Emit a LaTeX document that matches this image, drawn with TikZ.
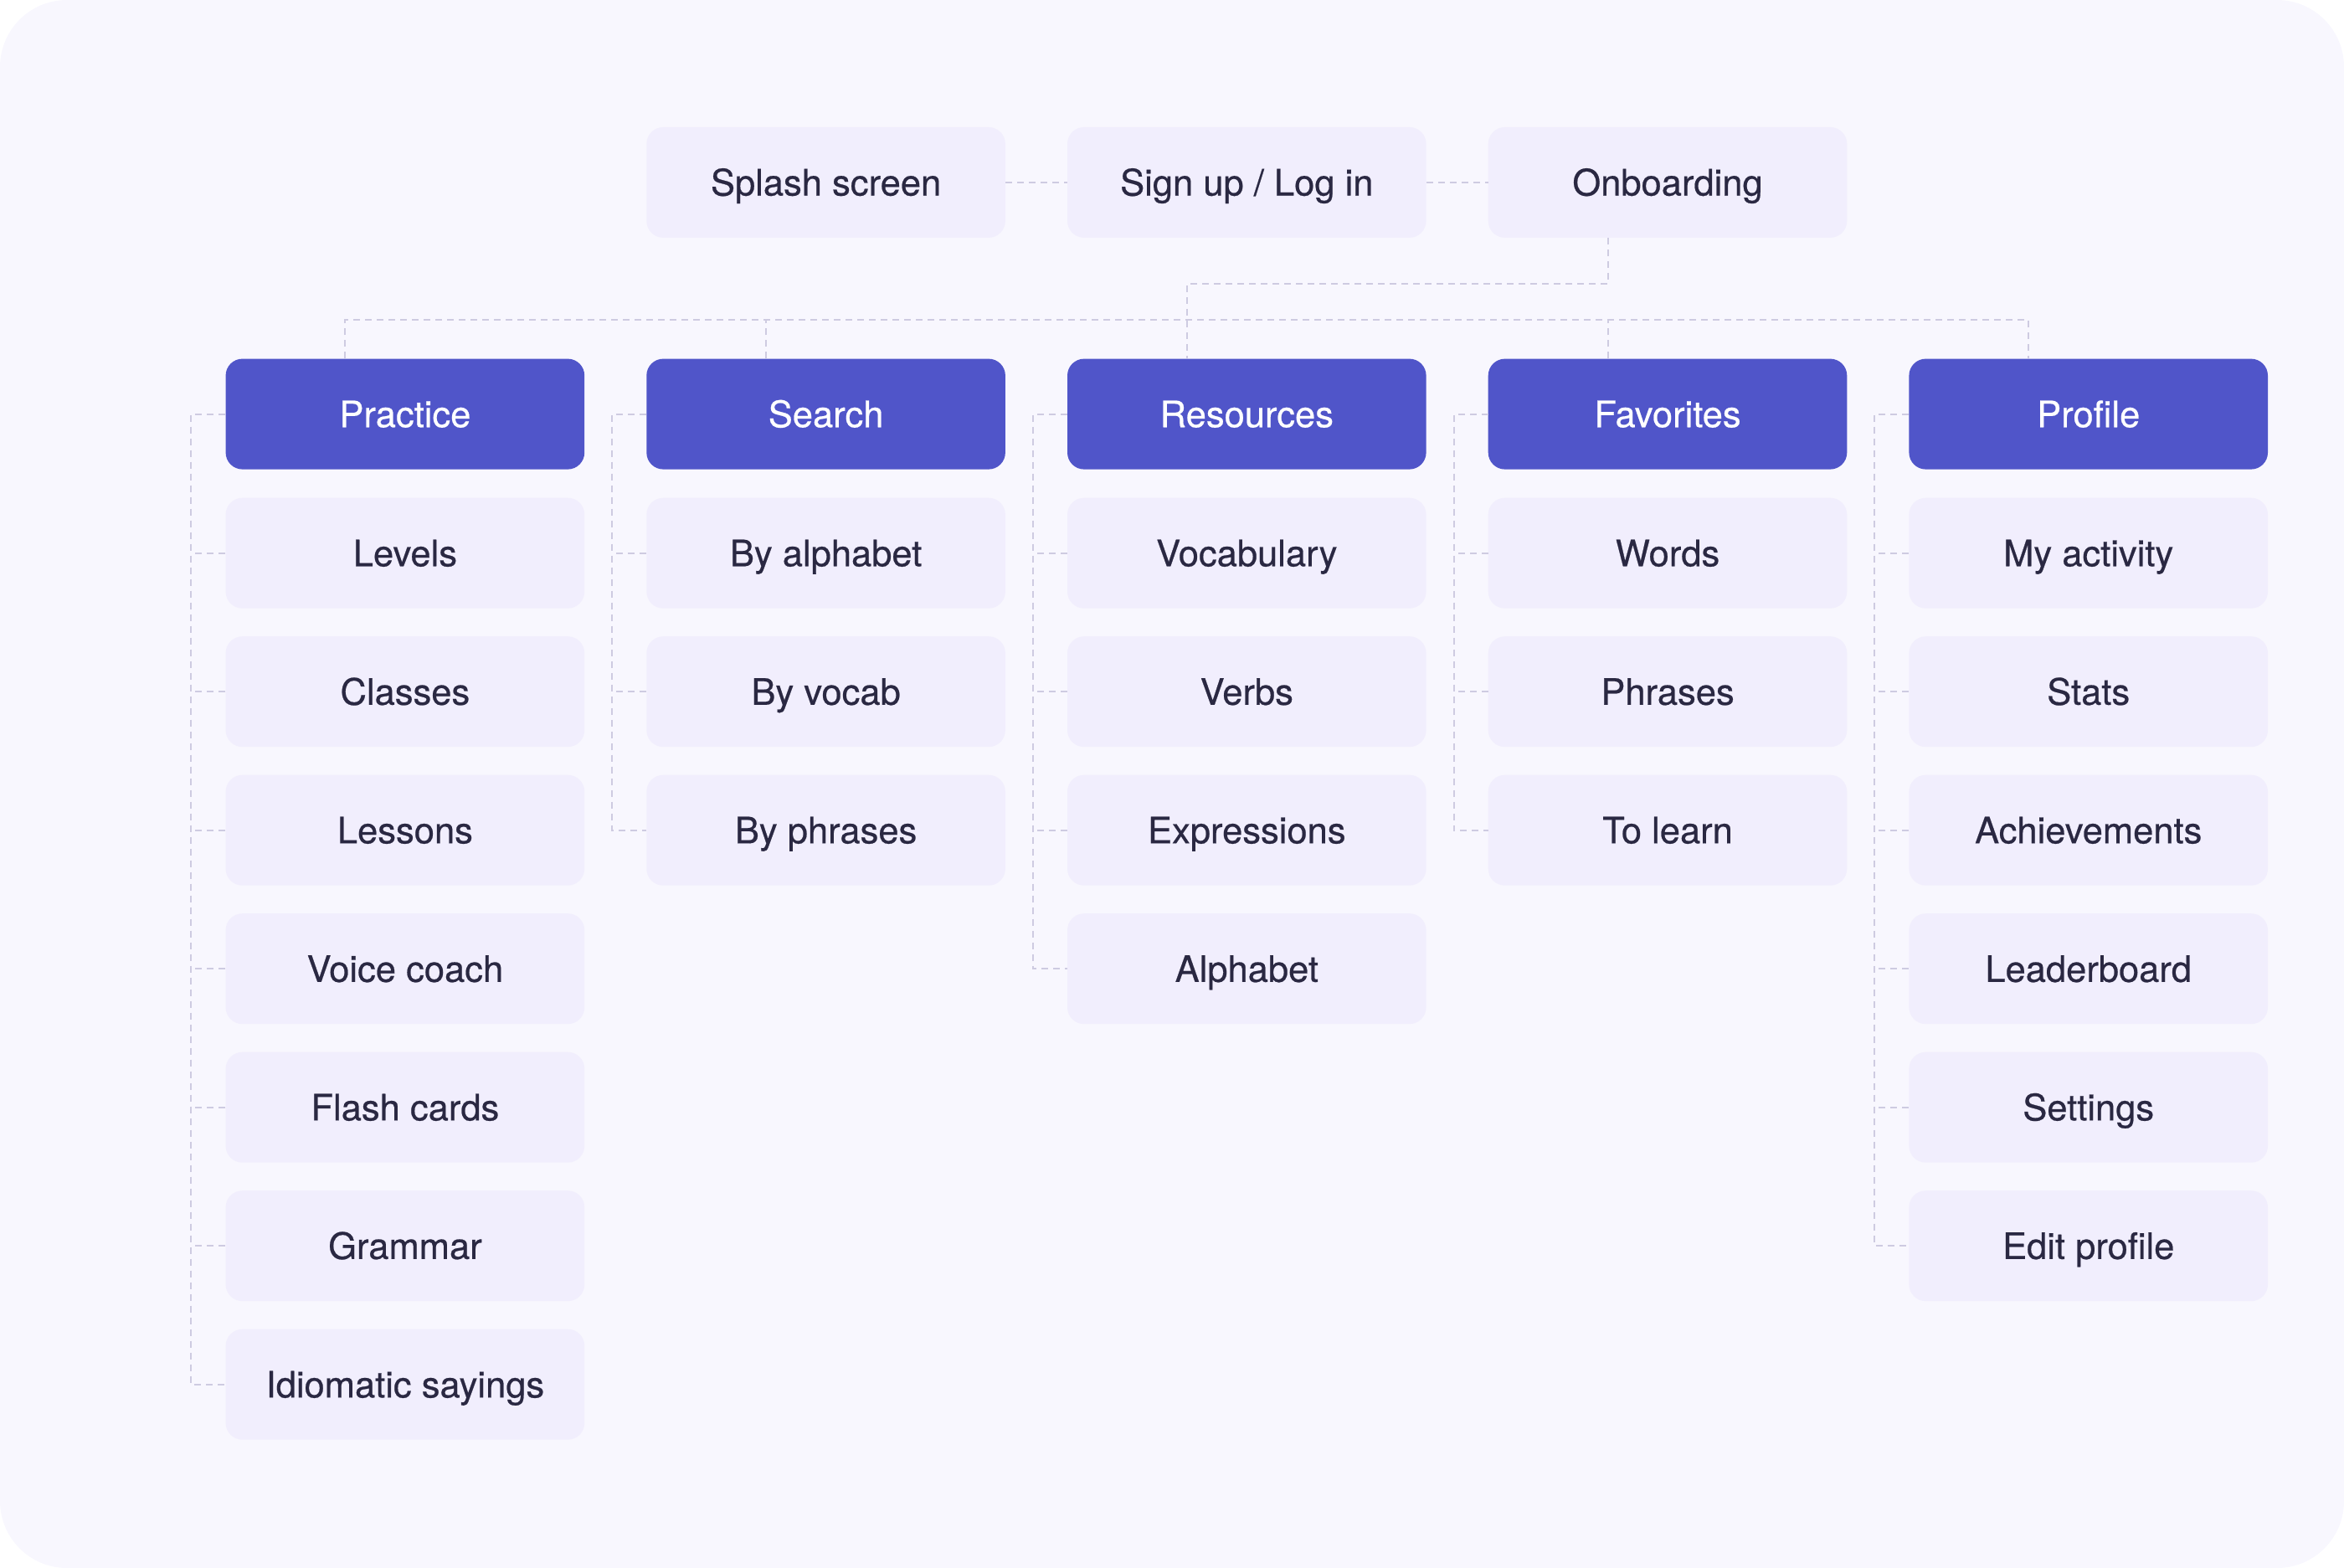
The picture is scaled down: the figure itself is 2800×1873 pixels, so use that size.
\documentclass[tikz,border=0pt]{standalone}
\usepackage{fontspec}
\setmainfont{TeX Gyre Heros}
\newfontfamily\medfont{TeX Gyre Heros}[BoldFont=TeX Gyre Heros, BoldFeatures={FakeBold=0.5}]
\usetikzlibrary{calc}
\definecolor{bgc}{HTML}{F8F7FE}
\definecolor{childc}{HTML}{F1EEFD}
\definecolor{headc}{HTML}{5055C9}
\definecolor{txtc}{HTML}{2A2842}
\definecolor{linec}{HTML}{CECBE1}
\begin{document}
\begin{tikzpicture}[x=1pt,y=-1pt,
  basebox/.style={rounded corners=20pt, minimum width=428.6pt, minimum height=132pt, inner sep=0pt,
    font=\medfont\bfseries\fontsize{43.5}{50}\selectfont, text height=31.3pt, text depth=0pt, anchor=center},
  childbox/.style={basebox, fill=childc, text=txtc},
  headbox/.style={basebox, fill=headc, text=white},
  conn/.style={draw=linec, line width=2pt, dash pattern=on 8pt off 6pt}]
\useasboundingbox (0,0) rectangle (2800,1873);
\fill[bgc, rounded corners=80pt] (0,0) rectangle (2800,1873);

% top row
\node[childbox] (splash) at (986.6,217.9) {Splash screen};
\node[childbox] (sign) at (1489.3,217.9) {Sign up / Log in};
\node[childbox] (onb) at (1992,217.9) {Onboarding};

% headers
\node[headbox] (pr) at (483.9,494.6) {Practice};
\node[headbox] (se) at (986.6,494.6) {Search};
\node[headbox] (re) at (1489.3,494.6) {Resources};
\node[headbox] (fa) at (1992,494.6) {Favorites};
\node[headbox] (pf) at (2494.7,494.6) {Profile};

% children
\foreach \t [count=\k] in {Levels,Classes,Lessons,Voice coach,Flash cards,Grammar,Idiomatic sayings}
  \node[childbox] (pr\k) at (483.9,{660.7+165.5*(\k-1)}) {\t};
\foreach \t [count=\k] in {By alphabet,By vocab,By phrases}
  \node[childbox] (se\k) at (986.6,{660.7+165.5*(\k-1)}) {\t};
\foreach \t [count=\k] in {Vocabulary,Verbs,Expressions,Alphabet}
  \node[childbox] (re\k) at (1489.3,{660.7+165.5*(\k-1)}) {\t};
\foreach \t [count=\k] in {Words,Phrases,To learn}
  \node[childbox] (fa\k) at (1992,{660.7+165.5*(\k-1)}) {\t};
\foreach \t [count=\k] in {My activity,Stats,Achievements,Leaderboard,Settings,Edit profile}
  \node[childbox] (pf\k) at (2494.7,{660.7+165.5*(\k-1)}) {\t};

% connectors top row
\draw[conn] (splash.east) -- (sign.west);
\draw[conn] (sign.east) -- (onb.west);

\coordinate (onbD) at ($(onb.south west)!1/3!(onb.south east)$);
\coordinate (prD) at ($(pr.north west)!1/3!(pr.north east)$);
\coordinate (seD) at ($(se.north west)!1/3!(se.north east)$);
\coordinate (reD) at ($(re.north west)!1/3!(re.north east)$);
\coordinate (faD) at ($(fa.north west)!1/3!(fa.north east)$);
\coordinate (pfD) at ($(pf.north west)!1/3!(pf.north east)$);
\coordinate (jy) at (0,339.3);
\coordinate (busy) at (0,382.1);

\draw[conn] (onbD) -- (onbD |- jy) -| (reD);
\draw[conn] (prD) -- (prD |- busy) -- (pfD |- busy) -- (pfD);
\draw[conn] (seD) -- (seD |- busy);
\draw[conn] (faD) -- (faD |- busy);

% column connectors
\draw[conn] (pr.west) -- ++(-41,0) |- (pr7.west);
\foreach \k in {1,...,6} \draw[conn] (pr\k.west) -- ++(-41,0);
\draw[conn] (se.west) -- ++(-41,0) |- (se3.west);
\foreach \k in {1,2} \draw[conn] (se\k.west) -- ++(-41,0);
\draw[conn] (re.west) -- ++(-41,0) |- (re4.west);
\foreach \k in {1,2,3} \draw[conn] (re\k.west) -- ++(-41,0);
\draw[conn] (fa.west) -- ++(-41,0) |- (fa3.west);
\foreach \k in {1,2} \draw[conn] (fa\k.west) -- ++(-41,0);
\draw[conn] (pf.west) -- ++(-41,0) |- (pf6.west);
\foreach \k in {1,...,5} \draw[conn] (pf\k.west) -- ++(-41,0);
\end{tikzpicture}
\end{document}
